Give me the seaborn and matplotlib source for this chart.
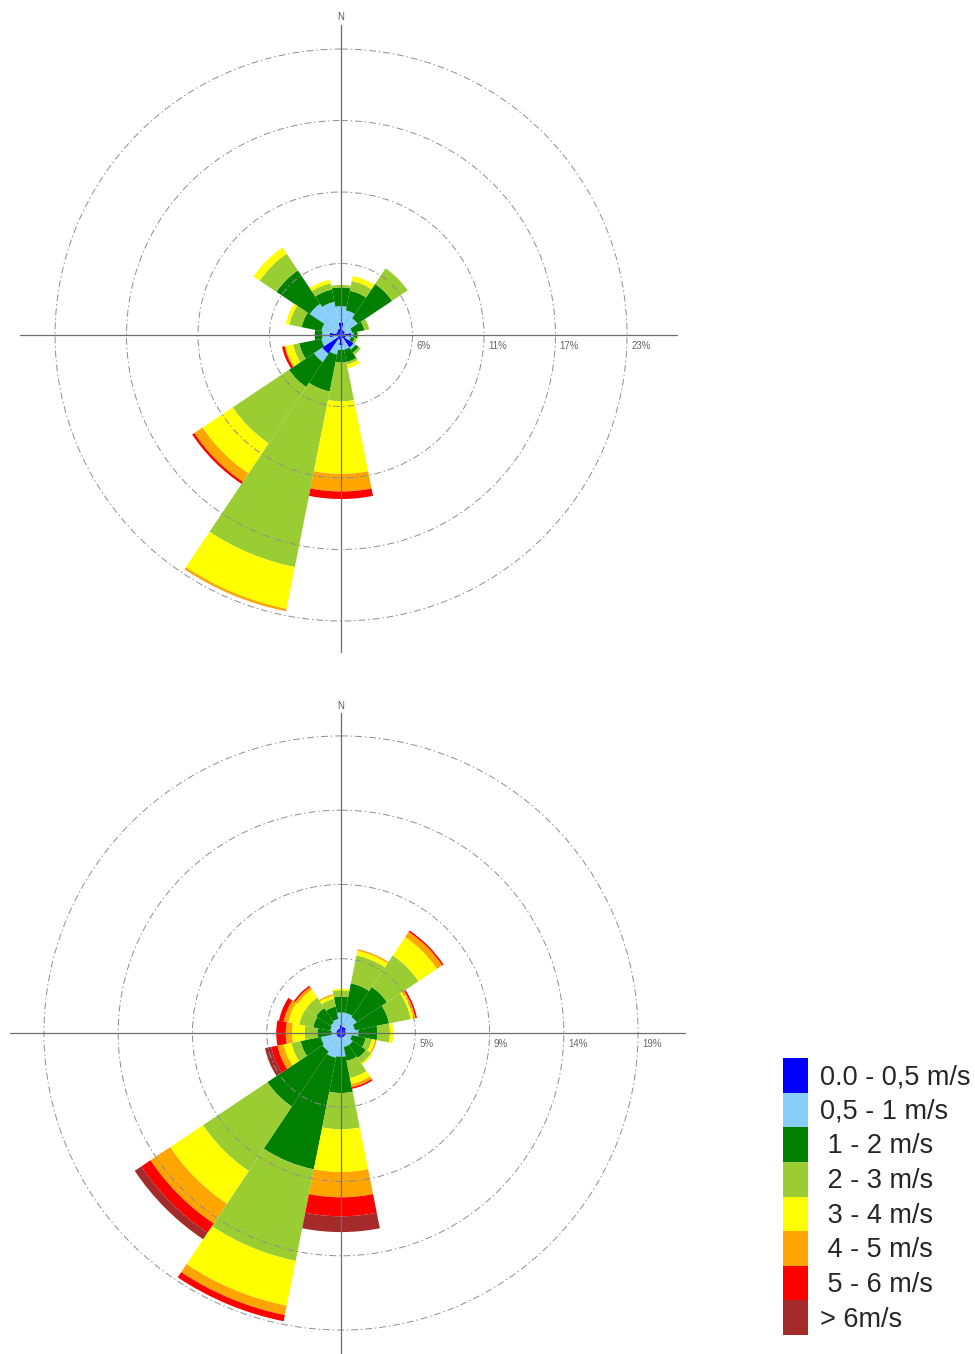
import numpy as np
import matplotlib
matplotlib.use("Agg")
import matplotlib.pyplot as plt
from matplotlib.patches import Patch
import seaborn as sns

# 16 sectors, clockwise from north
directions = ['N', 'NNE', 'NE', 'ENE', 'E', 'ESE', 'SE', 'SSE',
              'S', 'SSW', 'SW', 'WSW', 'W', 'WNW', 'NW', 'NNW']

speed_labels = ['0.0 - 0,5 m/s', '0,5 - 1 m/s', ' 1 - 2 m/s', ' 2 - 3 m/s',
                ' 3 - 4 m/s', ' 4 - 5 m/s', ' 5 - 6 m/s', '> 6m/s']
speed_colors = ['#0000ff', '#87cefa', '#007f00', '#9acd32',
                '#ffff00', '#ffa500', '#ff0000', '#a52a2a']

# upper rose: frequency (%) of each speed class per direction
top_00_05 = [1.0, 0.4, 0.4, 0.3, 0.8, 0.4, 1.2, 0.3, 0.8, 0.4, 1.8, 0.3, 0.9, 0.4, 0.4, 0.5]
top_05_1 = [1.3, 1.6, 1.2, 0.6, 0.2, 0.4, 0.2, 0.9, 0.4, 1.2, 0.8, 1.3, 0.6, 1.2, 2.6, 2.2]
top_1_2 = [1.5, 1.6, 3.3, 1.0, 0.3, 0.3, 0.3, 1.0, 1.0, 3.0, 2.4, 1.8, 0.6, 1.6, 3.2, 1.0]
top_2_3 = [0.2, 0.8, 1.5, 0.4, 0.1, 0.2, 0.2, 0.2, 3.1, 14.3, 5.4, 0.5, 0.0, 1.0, 1.6, 0.5]
top_3_4 = [0.0, 0.4, 0.0, 0.0, 0.0, 0.0, 0.0, 0.3, 5.8, 3.4, 2.9, 0.6, 0.0, 0.3, 0.6, 0.3]
top_4_5 = [0.0, 0.0, 0.0, 0.0, 0.0, 0.0, 0.0, 0.0, 1.4, 0.2, 0.8, 0.1, 0.0, 0.0, 0.0, 0.0]
top_5_6 = [0.0, 0.0, 0.0, 0.0, 0.0, 0.0, 0.0, 0.0, 0.6, 0.0, 0.2, 0.2, 0.0, 0.0, 0.0, 0.0]
top_6 = [0.0] * 16
top_rings = [5.71, 11.42, 17.13, 22.84]
top_ring_labels = ['6%', '11%', '17%', '23%']

# lower rose
bot_00_05 = [0.5, 0.4, 0.4, 0.3, 0.3, 0.3, 0.3, 0.3, 0.3, 0.3, 0.3, 0.3, 0.3, 0.3, 0.3, 0.3]
bot_05_1 = [0.8, 0.9, 0.8, 0.6, 0.8, 0.4, 0.6, 0.6, 1.2, 1.3, 1.1, 1.0, 0.3, 0.4, 0.5, 0.6]
bot_1_2 = [1.0, 1.9, 2.3, 2.2, 1.2, 0.9, 1.0, 0.9, 2.3, 7.2, 4.2, 1.3, 0.9, 1.1, 1.1, 0.8]
bot_2_3 = [0.4, 1.8, 2.4, 1.4, 0.8, 0.4, 0.4, 1.1, 2.3, 5.9, 4.9, 0.6, 0.8, 0.9, 0.8, 0.5]
bot_3_4 = [0.1, 0.3, 1.4, 0.2, 0.2, 0.2, 0.1, 0.4, 2.7, 2.9, 2.5, 0.5, 0.8, 0.7, 0.6, 0.2]
bot_4_5 = [0.0, 0.1, 0.4, 0.1, 0.0, 0.1, 0.0, 0.2, 1.6, 0.6, 1.5, 0.4, 0.4, 0.3, 0.2, 0.1]
bot_5_6 = [0.0, 0.0, 0.1, 0.1, 0.0, 0.0, 0.0, 0.1, 1.2, 0.4, 0.7, 0.4, 0.6, 0.3, 0.1, 0.0]
bot_6 = [0.0, 0.0, 0.0, 0.0, 0.0, 0.0, 0.0, 0.0, 1.0, 0.0, 0.5, 0.4, 0.0, 0.0, 0.0, 0.0]
bot_rings = [4.7, 9.4, 14.1, 18.8]
bot_ring_labels = ['5%', '9%', '14%', '19%']

sns.set_style("white")
plt.rcParams['font.family'] = ['Liberation Sans', 'DejaVu Sans']
palette = sns.color_palette(speed_colors)


def draw_rose(ax, classes, rmax, arms, rings, ring_labels):
    theta = np.deg2rad(np.arange(len(directions)) * 22.5)
    width = 2 * np.pi / len(directions)
    bottom = np.zeros(len(directions))
    for vals, color in zip(classes, palette):
        vals = np.asarray(vals)
        ax.bar(theta, vals, width=width, bottom=bottom, color=color,
               edgecolor='none', linewidth=0, align='center')
        bottom += vals

    ax.set_theta_zero_location('N')
    ax.set_theta_direction(-1)
    ax.set_ylim(0, rmax)
    ax.set_xticks([])
    ax.xaxis.grid(False)
    ax.set_yticks(rings)
    ax.set_yticklabels([])
    ax.yaxis.grid(True, color='#8e8e8e', linewidth=0.7, linestyle=(0, (7, 3, 1.5, 3)))
    ax.spines['polar'].set_visible(False)
    ax.set_axisbelow(False)

    # compass cross (N, E, S, W arms)
    for ang, length in zip([0, 90, 180, 270], arms):
        ax.plot([np.deg2rad(ang)] * 2, [0, length], color='#6e6e6e',
                linewidth=0.9, clip_on=False, zorder=3)

    ax.annotate('N', xy=(0, arms[0]), xytext=(0, 1.5), textcoords='offset points',
                ha='center', va='bottom', fontsize=7, color='#555555',
                annotation_clip=False)

    for r, lab in zip(rings, ring_labels):
        ax.annotate(lab, xy=(np.pi / 2, r), xytext=(3, -4), textcoords='offset points',
                    ha='left', va='top', fontsize=7, color='#666666')


fig = plt.figure(figsize=(9.75, 13.54), dpi=100)

# upper rose: centre (341, 335) px, radius 310 px
ax_top = fig.add_axes([0.03128, 0.52326, 0.63692, 0.45865], projection='polar')
draw_rose(ax_top, [top_00_05, top_05_1, top_1_2, top_2_3, top_3_4, top_4_5, top_5_6, top_6],
          24.8, [24.8, 26.8, 25.3, 25.6], top_rings, top_ring_labels)

# lower rose: centre (341, 1033) px, radius 320 px
ax_bot = fig.add_axes([0.02154, 0.00074, 0.6564, 0.4727], projection='polar')
draw_rose(ax_bot, [bot_00_05, bot_05_1, bot_1_2, bot_2_3, bot_3_4, bot_4_5, bot_5_6, bot_6],
          20.25, [20.25, 21.8, 20.6, 20.95], bot_rings, bot_ring_labels)

# colour key, bottom right
handles = [Patch(facecolor=c, edgecolor='none') for c in palette]
fig.legend(handles, speed_labels, loc='upper left',
           bbox_to_anchor=(783 / 975, 1 - 1058 / 1354),
           frameon=False, fontsize=19.5, handlelength=0.92, handleheight=1.59,
           labelspacing=0, handletextpad=0.45, borderpad=0, borderaxespad=0)

fig.savefig('out.png', dpi=100, facecolor='white')
